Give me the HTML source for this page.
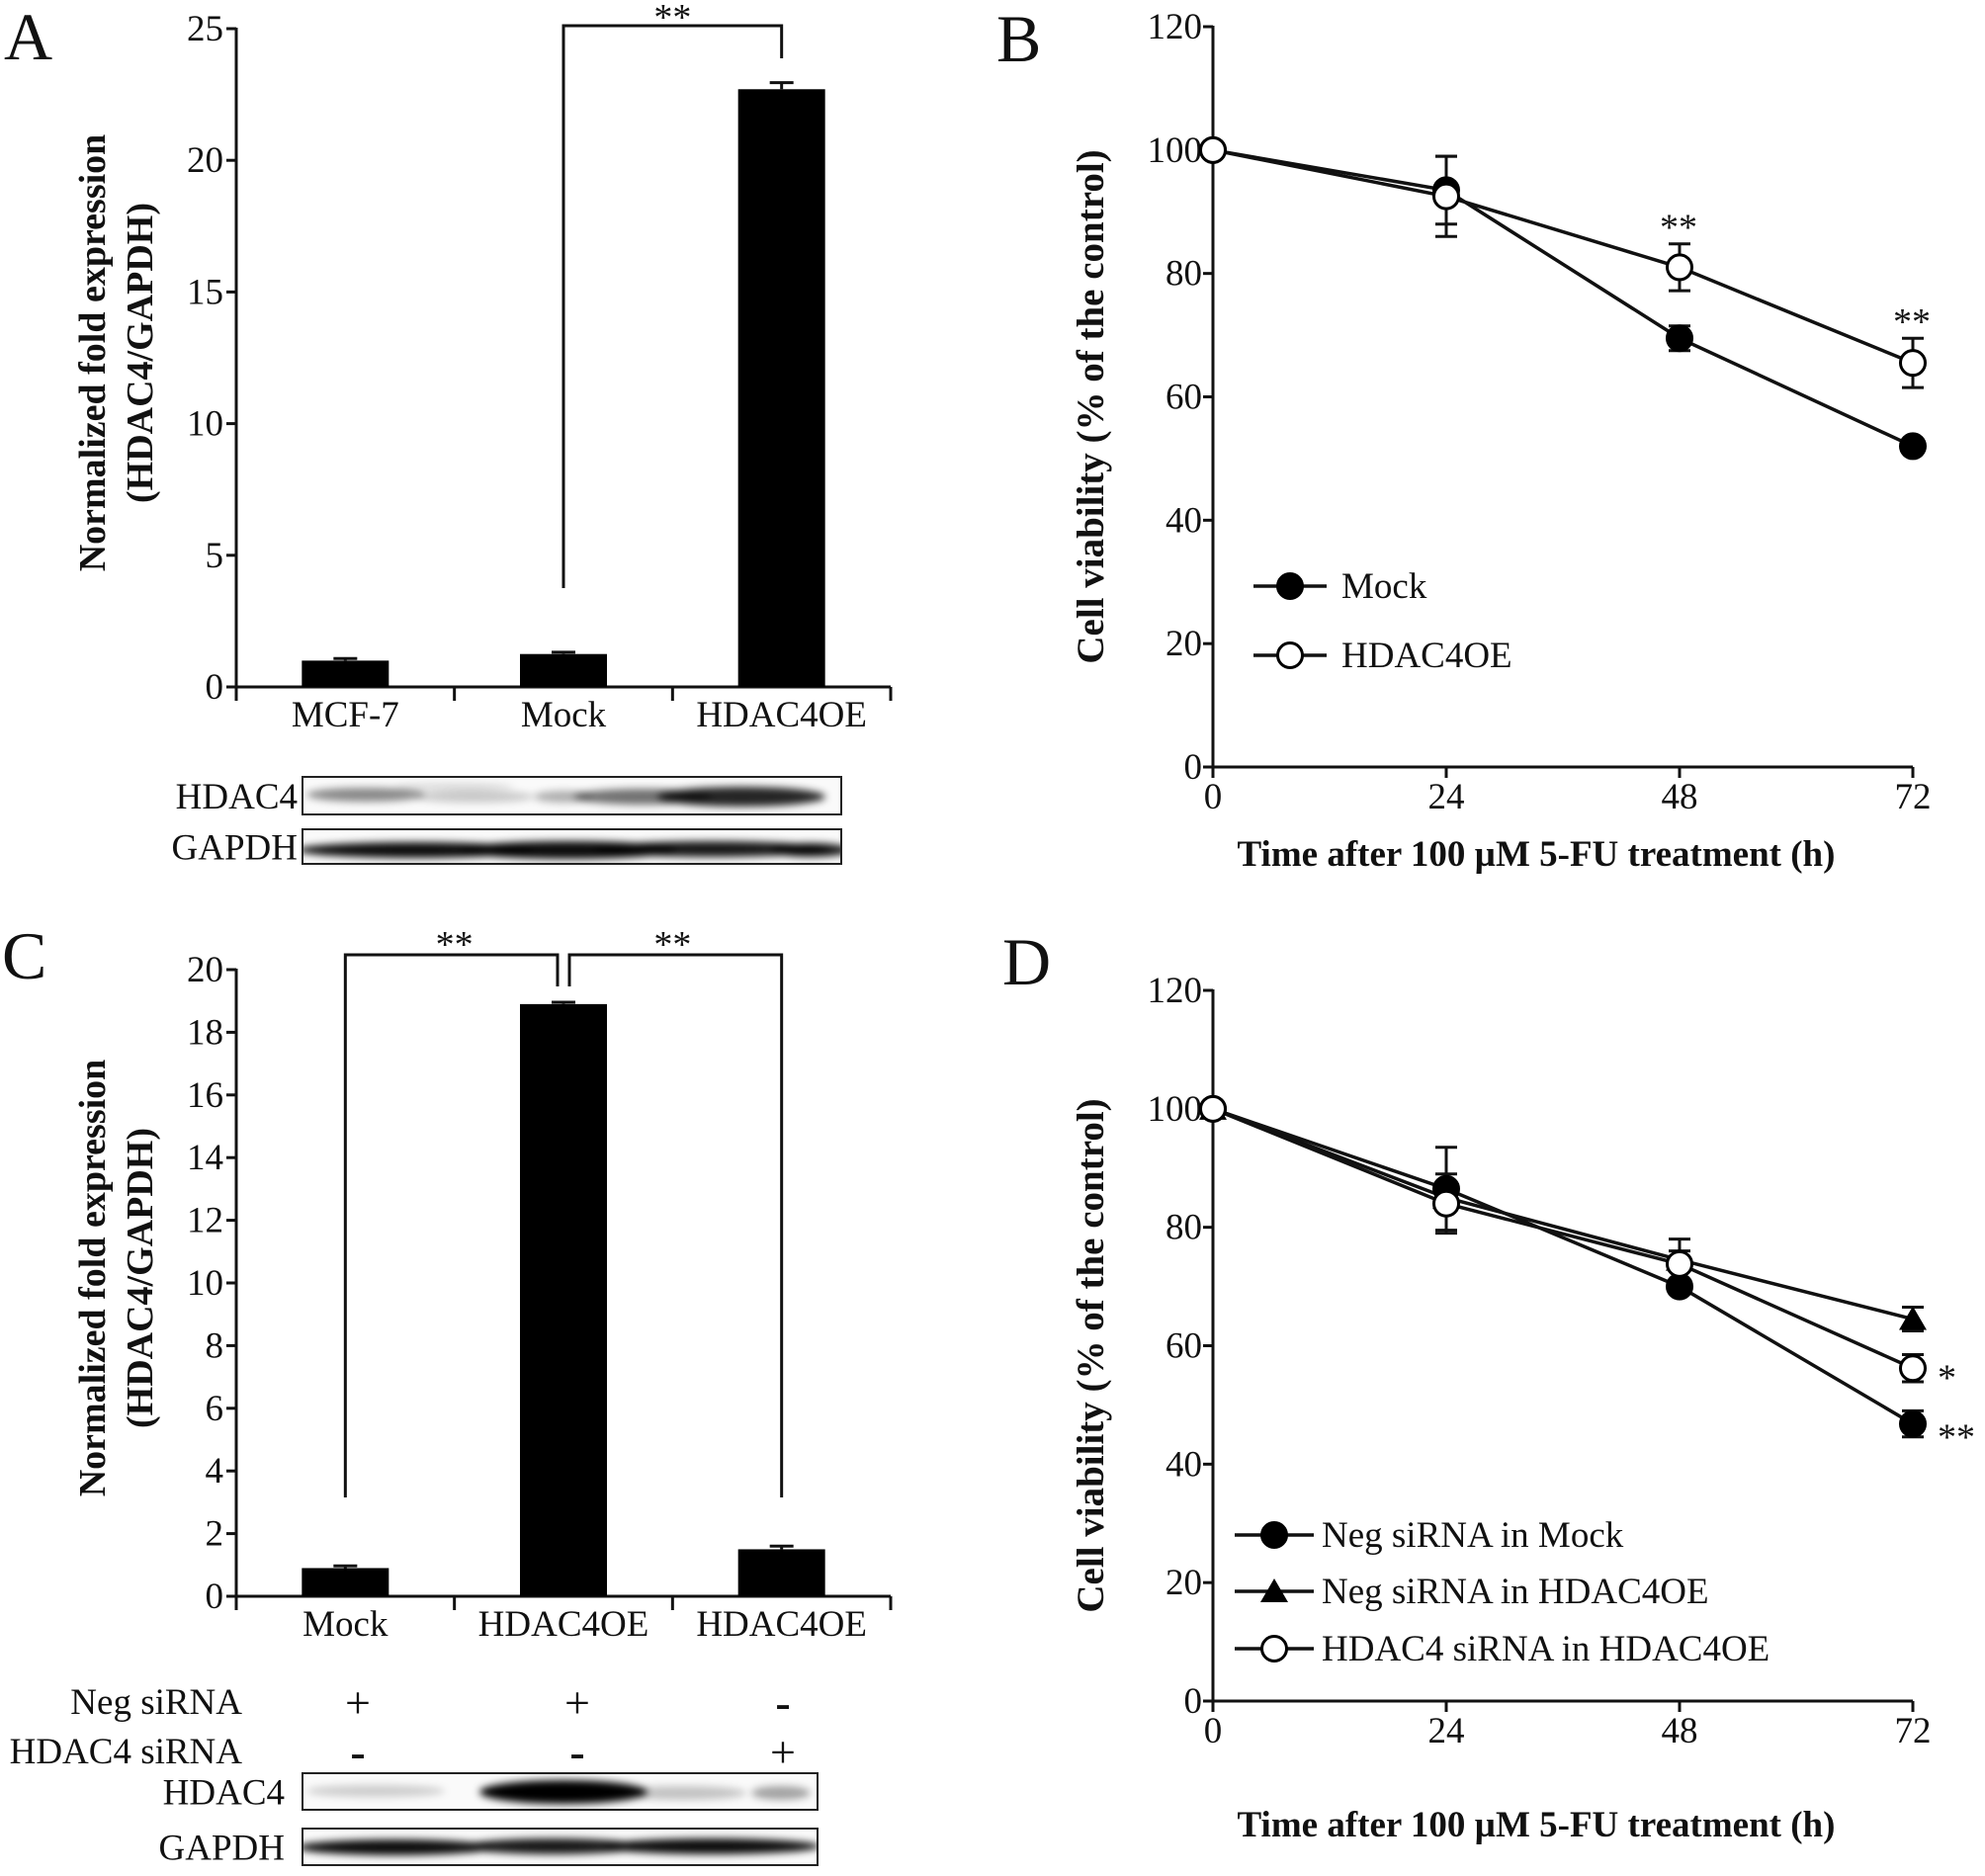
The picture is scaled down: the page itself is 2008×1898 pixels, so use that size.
<!DOCTYPE html>
<html><head><meta charset="utf-8"><style>
html,body{margin:0;padding:0;background:#fff}
svg{display:block}
text{font-family:"Liberation Serif",serif;fill:#111}
.b{font-weight:bold}
</style></head><body>
<svg id="fig" width="2008" height="1898" viewBox="0 0 2008 1898" xmlns="http://www.w3.org/2000/svg">
<defs>
<filter id="blur" x="-20%" y="-50%" width="140%" height="200%"><feGaussianBlur stdDeviation="4"/></filter>
</defs>
<g id="root"></g>
</svg>
<script>
// ---------- data ----------
const catsA = ["MCF-7","Mock","HDAC4OE"];
const valsA = [1.0, 1.25, 22.7];
const errA = [0.08, 0.07, 0.25];
const ticksA = [0,5,10,15,20,25];

const catsC = ["Mock","HDAC4OE","HDAC4OE"];
const valsC = [0.9, 18.9, 1.5];
const errC = [0.07, 0.06, 0.1];
const ticksC = [0,2,4,6,8,10,12,14,16,18,20];
const negSi = ["+","+","-"];
const hdSi = ["-","-","+"];

const timeX = [0,24,48,72];
const ticksY = [0,20,40,60,80,100,120];
const bMock = [100, 93.5, 69.5, 52];
const bMockErr = [0, 5.5, 2, 0.8];
const bOE = [100, 92.5, 81, 65.5];
const bOEErr = [0, 6.5, 3.8, 4];
const bStars = ["", "", "**", "**"];

const dMock = [100, 86.5, 70, 46.8];
const dMockErr = [0, 7, 1.2, 2.2];
const dTri = [100, 85, 74.5, 64.5];
const dTriErr = [0, 1.5, 1.5, 2];
const dOpen = [100, 84, 73.8, 56.2];
const dOpenErr = [0, 5, 4.2, 2.3];

// ---------- helpers ----------
const NS="http://www.w3.org/2000/svg";
const root=document.getElementById('root');
const defs=document.querySelector('defs');
function mk(tag,attrs,parent){const e=document.createElementNS(NS,tag);for(const k in attrs)e.setAttribute(k,attrs[k]);(parent||root).appendChild(e);return e;}
function line(x1,y1,x2,y2,w,p){return mk('line',{x1,y1,x2,y2,stroke:'#111','stroke-width':w||3},p);}
function txt(x,y,s,size,anchor,p,cls){const t=mk('text',{x,y,'font-size':size,'text-anchor':anchor||'middle'},p);if(cls)t.setAttribute('class',cls);t.textContent=s;return t;}

// ---------- panel letters ----------
[["A",4,60],["B",1008,62],["C",2,990],["D",1014,996]].forEach(l=>{
  const t=txt(l[1],l[2],l[0],68,'start');
  
  
});

// ---------- bar panel ----------
function barPanel(id,cats,vals,errs,ticks,y0,yTop,maxV){
  const g=mk('g',{});
  
  
  const xL=239,xR=901;
  const ys=v=>y0-(v/maxV)*(y0-yTop);
  line(xL,y0,xL,yTop-1,3,g);
  line(xL,y0,xR,y0,3,g);
  const bw=(xR-xL)/cats.length;
  ticks.forEach(t=>{
    line(xL-10,ys(t),xL,ys(t),3,g);
    const lb=txt(xL-13,ys(t)+12,String(t),37,'end',g);
    
    
  });
  for(let i=0;i<=cats.length;i++) line(xL+i*bw,y0,xL+i*bw,y0+14,3,g);
  cats.forEach((c,i)=>{
    const cx=xL+(i+0.5)*bw;
    const r=mk('rect',{x:cx-44,y:ys(vals[i]),width:88,height:y0-ys(vals[i]),fill:'#000'},g);
    
    
    line(cx,ys(vals[i]),cx,ys(vals[i]+errs[i]),3,g);
    line(cx-12,ys(vals[i]+errs[i]),cx+12,ys(vals[i]+errs[i]),3,g);
    const lb=txt(cx,y0+40,c,37,'middle',g);
    
    
  });
  const yt=mk('text',{transform:`translate(106,${(y0+yTop)/2-5}) rotate(-90)`,'font-size':38,'text-anchor':'middle',class:'b'},g);
  
  
  const t1=mk('tspan',{x:0,dy:0},yt);t1.textContent='Normalized  fold expression';
  const t2=mk('tspan',{x:0,dy:48},yt);t2.textContent='(HDAC4/GAPDH)';
  return {g,ys,bw,xL};
}

// Panel A
const A=barPanel('a',catsA,valsA,errA,ticksA,695,29,25);
(function(){const g=A.g;
  const x1=A.xL+1.5*A.bw, x2=A.xL+2.5*A.bw;
  const br=mk('path',{d:`M${x1} 595 V26 H${x2} V59`,fill:'none',stroke:'#111','stroke-width':3},g);
  
  
  txt((x1+x2)/2,30,'**',38,'middle',g);
})();

// Panel C
const C=barPanel('c',catsC,valsC,errC,ticksC,1615,981,20);
(function(){const g=C.g;
  const x0=A.xL+0.5*A.bw,x1=A.xL+1.5*A.bw,x2=A.xL+2.5*A.bw;
  const b1=mk('path',{d:`M${x0} 1515 V966 H${x1-6} V998`,fill:'none',stroke:'#111','stroke-width':3},g);
  
  
  const b2=mk('path',{d:`M${x1+6} 998 V966 H${x2} V1515`,fill:'none',stroke:'#111','stroke-width':3},g);
  
  
  txt((x0+x1)/2,968,'**',38,'middle',g);
  txt((x1+x2)/2,968,'**',38,'middle',g);
  const l1=txt(245,1734,'Neg siRNA',37,'end',g);
  
  
  const l2=txt(245,1784,'HDAC4 siRNA',37,'end',g);
  
  
  const px=[362,584,792];
  negSi.forEach((s,i)=>txt(px[i],1738,s==='+'?'+':'-',46,'middle',g,s==='-'?'b':''));
  hdSi.forEach((s,i)=>txt(px[i],1788,s==='+'?'+':'-',46,'middle',g,s==='-'?'b':''));
})();

// ---------- western blots ----------
let clipN=0;
function blot(name,x,y,w,h,bands,label,lx){
  const g=mk('g',{});
  
  
  const cid='clip'+(clipN++);
  const cp=mk('clipPath',{id:cid},defs);
  mk('rect',{x,y,width:w,height:h},cp);
  mk('rect',{x,y,width:w,height:h,fill:'#fafafa'},g);
  const outer=mk('g',{'clip-path':`url(#${cid})`},g);
  const inner=mk('g',{filter:'url(#blur)'},outer);
  bands.forEach(b=>mk('ellipse',{cx:b[0],cy:b[1],rx:b[2],ry:b[3],fill:'#000','fill-opacity':b[4]},inner));
  mk('rect',{x,y,width:w,height:h,fill:'none',stroke:'#222','stroke-width':2},g);
  const t=txt(lx,y+h/2+13,label,37,'end',g);
  
  
}
blot('blot-a-hdac4',306,786,545,38,[[370,804,60,7,0.45],[480,806,60,6,0.2],[460,796,60,4,0.12],[570,806,30,6,0.3],[650,806,70,8,0.55],[750,806,85,10,0.85]],'HDAC4',301);
blot('blot-a-gapdh',306,839,545,35,[[420,860,120,8,0.95],[575,860,110,9,0.95],[720,859,120,8,0.9],[820,860,40,7,0.9]],'GAPDH',301);
blot('blot-c-hdac4',306,1794,521,37,[[380,1812,70,6,0.18],[570,1813,85,12,1],[690,1814,65,7,0.22],[790,1814,30,7,0.35]],'HDAC4',288);
blot('blot-c-gapdh',306,1850,521,37,[[400,1869,100,8,0.95],[560,1868,90,8,0.9],[720,1868,110,8,0.95]],'GAPDH',288);

// ---------- line panels ----------
function linePanel(id,y0,y120,series,stars,legend,legYs,legTextX,legLineX,xTitleY){
  const g=mk('g',{});
  
  
  const xL=1227,xR=1935;
  const xs=t=>xL+(t/72)*(xR-xL);
  const ys=v=>y0-(v/120)*(y0-y120);
  line(xL,y0,xL,y120-1,3,g);
  line(xL,y0,xR,y0,3,g);
  ticksY.forEach(t=>{
    line(xL-10,ys(t),xL,ys(t),3,g);
    const lb=txt(xL-11,ys(t)+12,String(t),37,'end',g);
    
    
  });
  timeX.forEach(t=>{
    line(xs(t),y0,xs(t),y0+11,3,g);
    const lb=txt(xs(t),y0+42,String(t),37,'middle',g);
    
    
  });
  const yt=txt(0,0,'Cell viability (% of the control)',39,'middle',g,'b');
  yt.setAttribute('transform',`translate(1116,${(y0+y120)/2+10}) rotate(-90)`);
  
  
  const xt=txt(1554,xTitleY,'Time after 100 \u00b5M 5-FU treatment (h)',37,'middle',g,'b');
  
  
  series.forEach(s=>{
    const pl=mk('polyline',{points:timeX.map((t,i)=>xs(t)+','+ys(s.v[i])).join(' '),fill:'none',stroke:'#111','stroke-width':3.5},g);
    
    
  });
  series.forEach(s=>{
    timeX.forEach((t,i)=>{
      if(s.e[i]>0){
        const x=xs(t),a=ys(s.v[i]+s.e[i]),b=ys(s.v[i]-s.e[i]);
        line(x,a,x,b,3,g);line(x-11,a,x+11,a,3,g);line(x-11,b,x+11,b,3,g);
      }
    });
  });
  function marker(type,x,y,p){
    let m;
    if(type==='tri') m=mk('polygon',{points:`${x},${y-13} ${x-14},${y+11} ${x+14},${y+11}`,fill:'#000'},p);
    else m=mk('circle',{cx:x,cy:y,r:12.5,fill:type==='open'?'#fff':'#000',stroke:'#000','stroke-width':3},p);
    return m;
  }
  series.forEach(s=>{
    timeX.forEach((t,i)=>{
      const m=marker(s.type,xs(t),ys(s.v[i]),g);
      
      
    });
  });
  stars.forEach(st=>txt(st.x,st.y,st.s,38,'start',g));
  legend.forEach((l,i)=>{
    const lg=mk('g',{},g);
    
    
    line(legLineX[0],legYs[i],legLineX[1],legYs[i],3.5,lg);
    marker(l.type,(legLineX[0]+legLineX[1])/2,legYs[i],lg);
    txt(legTextX,legYs[i]+12,l.label,37,'start',lg);
  });
  return {xs,ys};
}

// Panel B
(function(){
  const y0=776,y120=27;
  const ys=v=>y0-(v/120)*(y0-y120);
  const xs=t=>1227+(t/72)*708;
  const stars=[];
  bStars.forEach((s,i)=>{ if(s) stars.push({x:xs(timeX[i])-20,y:ys(bOE[i]+bOEErr[i])-4,s}); });
  linePanel('b',y0,y120,
    [{name:'mock',type:'fill',v:bMock,e:bMockErr},{name:'hdac4oe',type:'open',v:bOE,e:bOEErr}],
    stars,
    [{type:'fill',label:'Mock'},{type:'open',label:'HDAC4OE'}],
    [593,663],1357,[1268,1342],876);
})();

// Panel D
(function(){
  const y0=1721,y120=1002;
  const ys=v=>y0-(v/120)*(y0-y120);
  linePanel('d',y0,y120,
    [{name:'neg-sirna-mock',type:'fill',v:dMock,e:dMockErr},{name:'neg-sirna-hdac4oe',type:'tri',v:dTri,e:dTriErr},{name:'hdac4-sirna-hdac4oe',type:'open',v:dOpen,e:dOpenErr}],
    [{x:1960,y:ys(dOpen[3])+22,s:'*'},{x:1960,y:ys(dMock[3])+26,s:'**'}],
    [{type:'fill',label:'Neg siRNA in Mock'},{type:'tri',label:'Neg siRNA in HDAC4OE'},{type:'open',label:'HDAC4 siRNA in HDAC4OE'}],
    [1553,1610,1668],1337,[1249,1329],1858);
})();
</script>
</body></html>
